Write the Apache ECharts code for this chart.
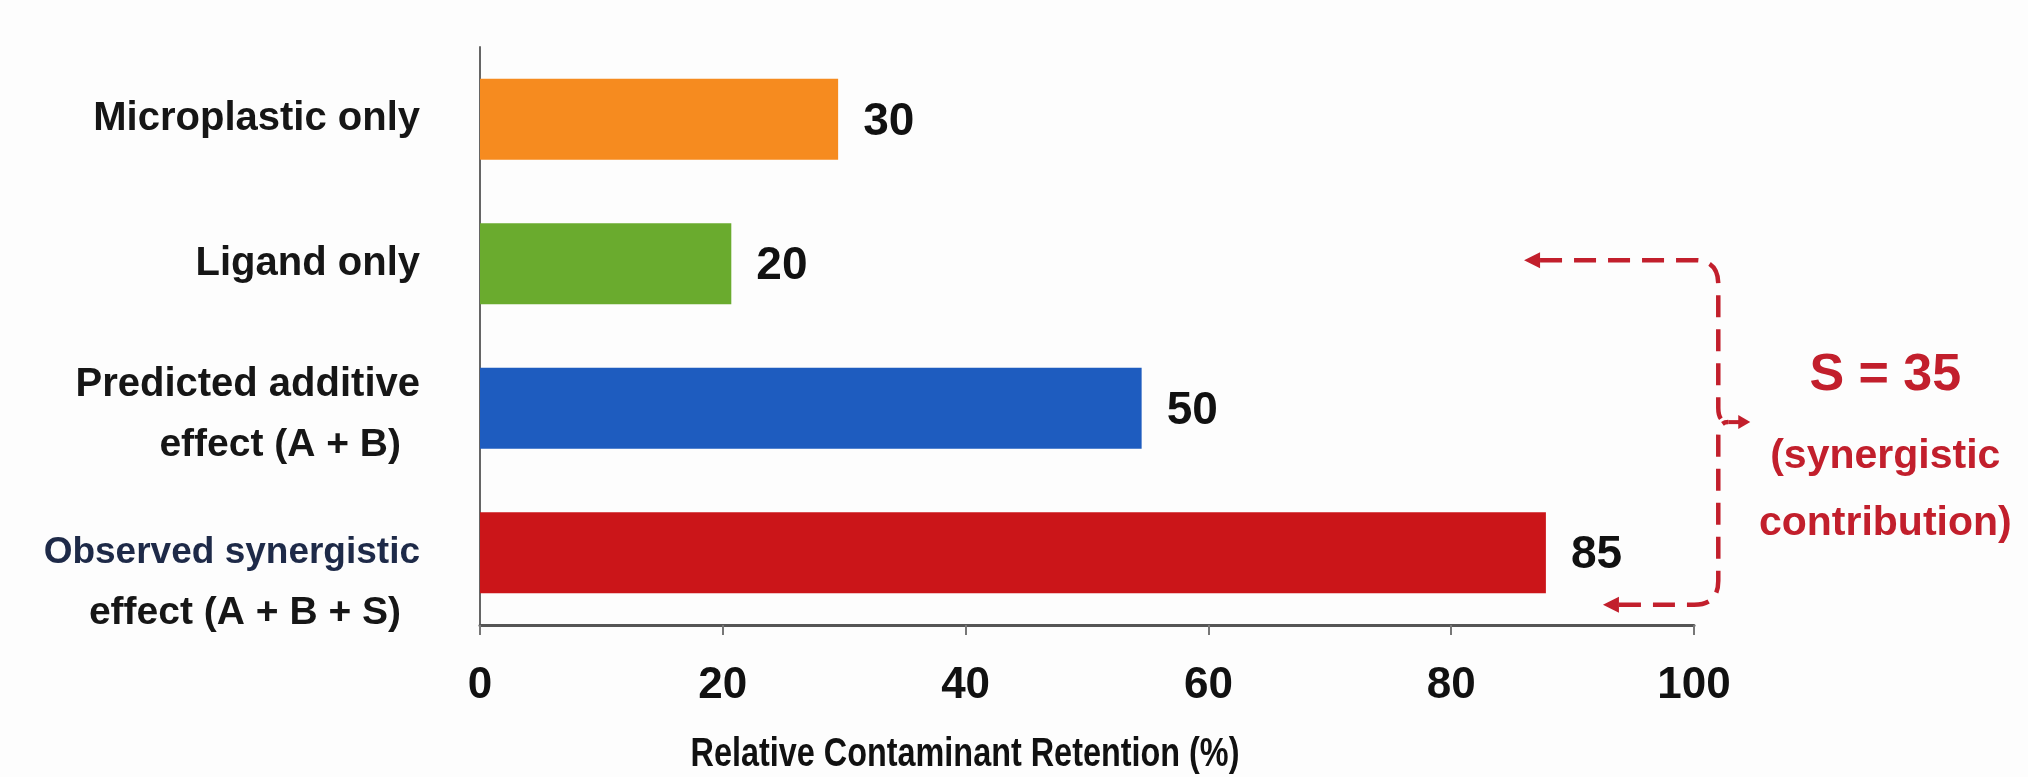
<!DOCTYPE html>
<html><head><meta charset="utf-8">
<script src="https://cdn.jsdelivr.net/npm/echarts@6/dist/echarts.min.js"></script>
<style>html,body{margin:0;padding:0;background:#fdfdfd}#c{width:2028px;height:777px}</style>
</head><body><div id="c"></div>
<script>
const categories = ['Microplastic only', 'Ligand only', 'Predicted additive\neffect (A + B)', 'Observed synergistic\neffect (A + B + S)'];
const barValues = [29.5, 20.7, 54.5, 87.8];
const valueLabels = ['30', '20', '50', '85'];
const barColors = ['#F68B1F', '#6AAB2E', '#1E5CBF', '#CB1519'];
const xTicks = [0, 20, 40, 60, 80, 100];
const axisTitle = 'Relative Contaminant Retention (%)';
const synergyLines = ['S = 35', '(synergistic', 'contribution)'];

const FONT = '"Liberation Sans", Arial, sans-serif';
const RED = '#C21F2C';
const chart = echarts.init(document.getElementById('c'));

function catLabel(v, i) {
  const parts = v.split('\n');
  if (parts.length === 1) return '{a|' + v + '}';
  const sp = i === 3 ? '{s2| }' : '{s1| }';
  const first = i === 3 ? '{d|' + parts[0] + '}' : '{a|' + parts[0] + '}';
  return sp + '\n' + first + '\n{b|' + parts[1] + '}';
}

chart.setOption({
  backgroundColor: '#fdfdfd',
  animation: false,
  grid: { left: 480, right: 334, top: 47, bottom: 152 },
  xAxis: {
    type: 'value',
    min: xTicks[0], max: xTicks[xTicks.length - 1], interval: xTicks[1] - xTicks[0],
    axisLine: { show: true, lineStyle: { color: '#555', width: 3 } },
    axisTick: { show: true, length: 10, lineStyle: { color: '#777', width: 2 } },
    splitLine: { show: false },
    axisLabel: { fontSize: 44, fontWeight: 'bold', color: '#111', margin: 39, fontFamily: FONT }
  },
  yAxis: {
    type: 'category',
    data: categories,
    inverse: true,
    axisLine: { show: true, lineStyle: { color: '#666', width: 2 } },
    axisTick: { show: false },
    axisLabel: {
      margin: 60,
      formatter: catLabel,
      rich: {
        a: { fontSize: 40, fontWeight: 'bold', color: '#161616', fontFamily: FONT, lineHeight: 60 },
        d: { fontSize: 37, fontWeight: 'bold', color: '#1e2a48', fontFamily: FONT, lineHeight: 60 },
        b: { fontSize: 39, fontWeight: 'bold', color: '#161616', fontFamily: FONT, lineHeight: 60, padding: [0, 19, 0, 0] },
        s1: { fontSize: 10, lineHeight: 14 },
        s2: { fontSize: 10, lineHeight: 60 }
      }
    }
  },
  graphic: [{
    type: 'text', x: 965, y: 755, scaleX: 0.79, silent: true,
    style: { text: axisTitle, font: 'bold 41px ' + FONT, fill: '#111', align: 'center', verticalAlign: 'middle' }
  }],
  series: [
    {
      type: 'bar',
      barWidth: '56%',
      data: barValues.map((v, i) => ({ value: v, itemStyle: { color: barColors[i] } })),
      label: {
        show: true, position: 'right', distance: 25, offset: [0, 3],
        formatter: p => valueLabels[p.dataIndex],
        fontSize: 46, fontWeight: 'bold', color: '#111', fontFamily: FONT
      }
    },
    {
      type: 'custom',
      silent: true,
      clip: false,
      z: 10,
      data: [[0, 0]],
      renderItem: function (params, api) {
        const band = api.size([0, 1])[1];
        const t = api.coord([86, 1]);
        const tipT = t[0], topY = t[1] - 0.025 * band;
        const bx = api.coord([102, 1])[0];
        const b = api.coord([92.5, 3]);
        const tipB = b[0], botY = b[1] + 0.36 * band;
        const midY = topY + 0.47 * (botY - topY);
        const r = 24, ah = 16;
        const lineStyle = { stroke: RED, lineWidth: 4.5, lineDash: [22, 12], fill: 'none' };
        const topPath = 'M' + (tipT + ah) + ' ' + topY + ' L' + (bx - r) + ' ' + topY +
          ' Q' + bx + ' ' + topY + ' ' + bx + ' ' + (topY + r) +
          ' L' + bx + ' ' + (midY - 14) + ' Q' + bx + ' ' + midY + ' ' + (bx + 10) + ' ' + midY;
        const botPath = 'M' + (tipB + ah) + ' ' + botY + ' L' + (bx - r) + ' ' + botY +
          ' Q' + bx + ' ' + botY + ' ' + bx + ' ' + (botY - r) +
          ' L' + bx + ' ' + (midY + 14) + ' Q' + bx + ' ' + midY + ' ' + (bx + 10) + ' ' + midY;
        const cx = bx + 167;
        const children = [
          { type: 'path', shape: { pathData: topPath }, style: lineStyle },
          { type: 'path', shape: { pathData: botPath }, style: lineStyle },
          { type: 'line', shape: { x1: bx + 10, y1: midY, x2: bx + 22, y2: midY }, style: { stroke: RED, lineWidth: 4 } },
          { type: 'polygon', shape: { points: [[tipT, topY], [tipT + ah, topY - 8], [tipT + ah, topY + 8]] }, style: { fill: RED } },
          { type: 'polygon', shape: { points: [[tipB, botY], [tipB + ah, botY - 8], [tipB + ah, botY + 8]] }, style: { fill: RED } },
          { type: 'polygon', shape: { points: [[bx + 32, midY], [bx + 20, midY - 7], [bx + 20, midY + 7]] }, style: { fill: RED } },
          { type: 'text', x: cx, y: midY - 46, style: { text: synergyLines[0], font: 'bold 52px ' + FONT, fill: RED, align: 'center', verticalAlign: 'middle' } },
          { type: 'text', x: cx, y: midY + 35, style: { text: synergyLines[1], font: 'bold 41px ' + FONT, fill: RED, align: 'center', verticalAlign: 'middle' } },
          { type: 'text', x: cx, y: midY + 102, style: { text: synergyLines[2], font: 'bold 41px ' + FONT, fill: RED, align: 'center', verticalAlign: 'middle' } }
        ];
        return { type: 'group', children: children };
      }
    }
  ]
});
</script>
</body></html>
